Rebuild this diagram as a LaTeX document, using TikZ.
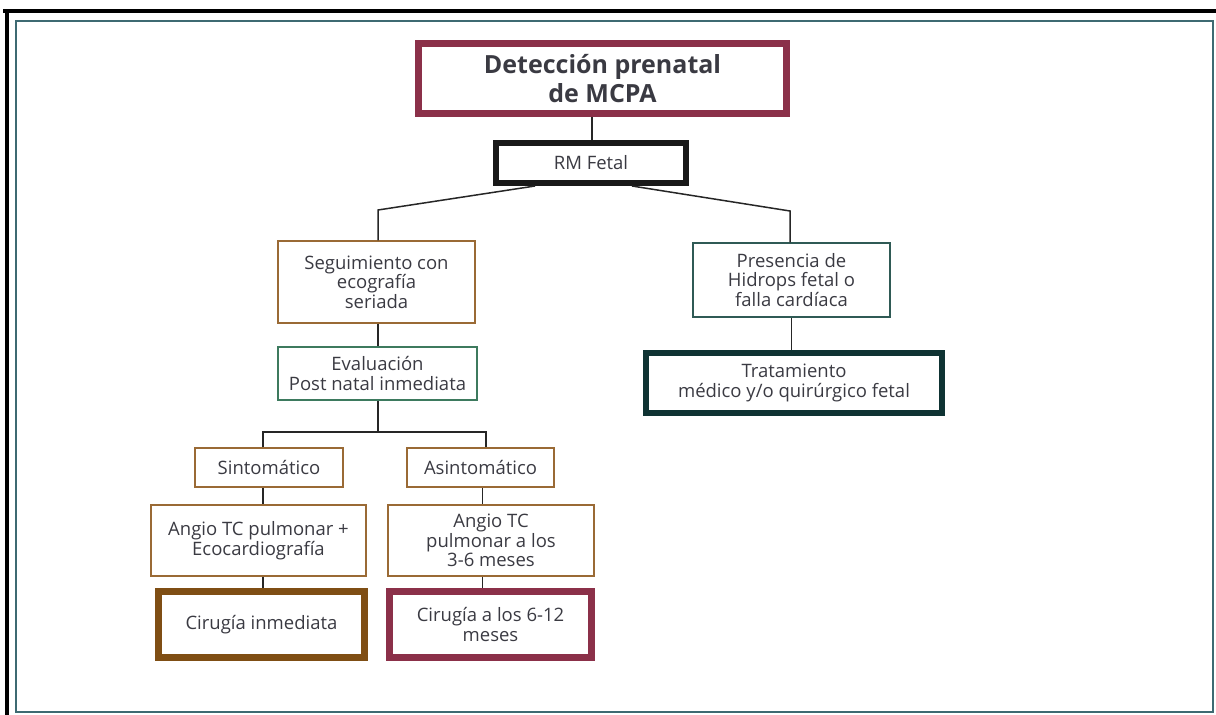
\documentclass[tikz,border=0pt]{standalone}
\usepackage{fontspec}
\setmainfont{Open Sans}
\usepackage{tikz}
\usetikzlibrary{positioning}

\definecolor{vino}{HTML}{8B3049}
\definecolor{cafe}{HTML}{7F4E14}
\definecolor{cafeclaro}{HTML}{9A6A35}
\definecolor{verde}{HTML}{3D7A5E}
\definecolor{petroleo}{HTML}{2F5A55}
\definecolor{petroleooscuro}{HTML}{0F3333}
\definecolor{marco}{HTML}{3E6A72}
\definecolor{texto}{HTML}{3A3A42}

\tikzset{
  caja/.style={draw, line width=1.5pt, align=center, text=texto, inner sep=1pt,
    font=\fontsize{18.5}{19.5}\selectfont},
  cajagruesa/.style={caja, line width=7pt},
  conector/.style={line width=1.5pt, draw=black!85},
}

\begin{document}
\begin{tikzpicture}[x=1pt,y=-1pt]
      \useasboundingbox (0,0) rectangle (1216,715);
      % marco
      \draw[line width=4pt] (3,11) -- (1216,11);
      \draw[line width=4pt] (7,9) -- (7,715);
      \draw[marco, line width=1.5pt] (16,21) rectangle (1213,712);
      % cajas
      \node[cajagruesa, draw=vino, minimum width=368, minimum height=70,
        font=\fontsize{25}{29}\selectfont\bfseries] (deteccion) at (602.5,78.5)
        {Detección prenatal\\de MCPA};
      \node[caja, draw=black!90, line width=6pt, minimum width=190, minimum height=40] (rm) at (591,163) {RM Fetal};
      \node[caja, draw=cafeclaro, minimum width=197, minimum height=82] (seguimiento) at (376.5,282)
        {Seguimiento con\\ecografía\\seriada};
      \node[caja, draw=verde, minimum width=199, minimum height=53] (evaluacion) at (377.5,373.5)
        {Evaluación\\Post natal inmediata};
      \node[caja, draw=petroleo, minimum width=197, minimum height=74] (presencia) at (791.5,280)
        {Presencia de\\Hidrops fetal o\\falla cardíaca};
      \node[caja, draw=petroleooscuro, line width=6pt, minimum width=296, minimum height=60] (tratamiento) at (794,383)
        {Tratamiento\\médico y/o quirúrgico fetal};
      \node[caja, draw=cafeclaro, minimum width=148, minimum height=39] (sintomatico) at (269,467.5) {Sintomático};
      \node[caja, draw=cafeclaro, minimum width=147, minimum height=39] (asintomatico) at (480.5,467.5) {Asintomático};
      \node[caja, draw=cafeclaro, minimum width=215, minimum height=71] (angiosint) at (258.5,540.5)
        {Angio TC pulmonar +\\Ecocardiografía};
      \node[caja, draw=cafeclaro, minimum width=206, minimum height=71] (angioasint) at (491,540.5)
        {Angio TC\\pulmonar a los\\3-6 meses};
      \node[cajagruesa, draw=cafe, minimum width=206, minimum height=66] (cirinmediata) at (261.5,624.5)
        {Cirugía inmediata};
      \node[cajagruesa, draw=vino, minimum width=202, minimum height=66] (cirdiferida) at (490.5,624.5)
        {Cirugía a los 6-12\\meses};
      % puntos de quiebre
      \coordinate (rmizq) at (535,186);
      \coordinate (rmder) at (632,186);
      \coordinate (quiebreizq) at (378,210);
      \coordinate (quiebreder) at (790,211);
      \coordinate (barra) at (378,432);
      \coordinate (barraizq) at (263,432);
      \coordinate (barrader) at (486,432);
      % conectores
      \draw[conector] (deteccion.south -| rm.north) ++(1,0) -- ([xshift=1pt]rm.north);
      \draw[conector] (rmizq) -- (quiebreizq) -- (quiebreizq |- seguimiento.north);
      \draw[conector] (rmder) -- (quiebreder) -- (quiebreder |- presencia.north);
      \draw[conector] (quiebreizq |- seguimiento.south) -- (quiebreizq |- evaluacion.north);
      \draw[conector] (presencia.south) -- (presencia.south |- tratamiento.north);
      \draw[conector] (barra |- evaluacion.south) -- (barra);
      \draw[conector] (barraizq |- sintomatico.north) -- (barraizq) -- (barrader) -- (barrader |- asintomatico.north);
      \draw[conector] ([xshift=-6pt]sintomatico.south) -- ([xshift=-6pt]sintomatico.south |- angiosint.north);
      \draw[conector] ([xshift=-6pt]sintomatico.south |- angiosint.south) -- ([xshift=-6pt]sintomatico.south |- cirinmediata.north);
      \draw[conector] ([xshift=2pt]asintomatico.south) -- ([xshift=2pt]asintomatico.south |- angioasint.north);
      \draw[conector] ([xshift=2pt]asintomatico.south |- angioasint.south) -- ([xshift=2pt]asintomatico.south |- cirdiferida.north);
    \end{tikzpicture}
\end{document}
